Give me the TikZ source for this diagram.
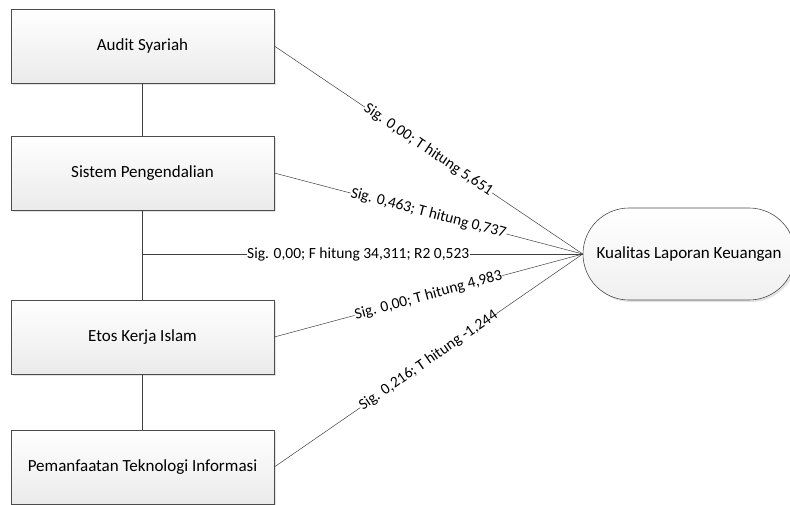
\documentclass[tikz,border=0pt]{standalone}
\usepackage{fontspec}
\setmainfont{Carlito}
\usepackage{tikz}
\usetikzlibrary{shapes}
\usetikzlibrary{shadows}
\usetikzlibrary{calc}

\tikzset{
        varbox/.style={draw=black!70, line width=0.6pt, rectangle, minimum width=263pt, minimum height=74pt,
                top color=white, bottom color=black!8, font=\fontsize{17}{20}\selectfont,
                drop shadow={shadow xshift=2pt, shadow yshift=-2pt, fill=black!18, opacity=0.6}},
        hasil/.style={draw=black!70, line width=0.6pt, rectangle, rounded corners=46pt, minimum width=212pt,
                minimum height=92pt, inner sep=0pt, top color=white, bottom color=black!6,
                font=\fontsize{17}{20}\selectfont,
                drop shadow={shadow xshift=2pt, shadow yshift=-2pt, fill=black!18, opacity=0.6}},
        garis/.style={draw=black!75, line width=0.5pt},
        uji/.style={fill=white, inner sep=0.5pt, font=\fontsize{15.5}{18}\selectfont}
}

\begin{document}
\begin{tikzpicture}[x=1pt,y=-1pt]
        \useasboundingbox (0,0) rectangle (790,504);
        \node[varbox] (audit) at (142.5,46) {Audit Syariah};
        \node[varbox] (sistem) at (142.5,173) {Sistem Pengendalian};
        \node[varbox] (etos) at (142.5,337) {Etos Kerja Islam};
        \node[varbox] (teknologi) at (142.5,467) {Pemanfaatan Teknologi Informasi};
        \node[hasil] (kualitas) at (689,254) {Kualitas Laporan Keuangan};
        \coordinate (simultan) at (sistem.south |- kualitas.west);
        % garis vertikal antar variabel
        \draw[garis] (audit.south) -- (sistem.north);
        \draw[garis] (sistem.south) -- (etos.north);
        \draw[garis] (etos.south) -- (teknologi.north);
        % uji parsial dan simultan
        \draw[garis] (audit.east) -- node[uji, sloped, pos=0.5] {Sig. 0,00; T hitung 5,651} (kualitas.west);
        \draw[garis] (sistem.east) -- node[uji, sloped, pos=0.5] {Sig. 0,463; T hitung 0,737} (kualitas.west);
        \draw[garis] (simultan) -- node[uji, pos=0.49] {Sig. 0,00; F hitung 34,311; R2 0,523} (kualitas.west);
        \draw[garis] (etos.east) -- node[uji, sloped, pos=0.5] {Sig. 0,00; T hitung 4,983} (kualitas.west);
        \draw[garis] (teknologi.east) -- node[uji, sloped, pos=0.5] {Sig. 0,216; T hitung -1,244} (kualitas.west);
\end{tikzpicture}
\end{document}
